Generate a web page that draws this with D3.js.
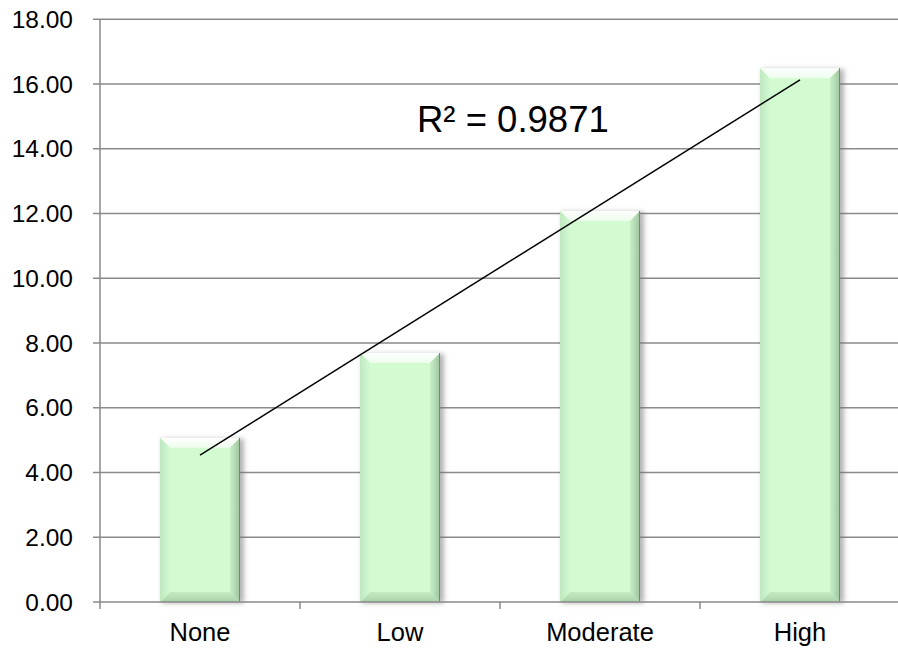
<!DOCTYPE html>
<html>
<head>
<meta charset="utf-8">
<script src="https://cdn.jsdelivr.net/npm/d3@7"></script>
<style>
  html, body { margin: 0; padding: 0; background: #fff; }
  svg { display: block; font-family: "Liberation Sans", Arial, sans-serif; }
</style>
</head>
<body>
<svg id="chart" width="898" height="649"></svg>
<script>
const categories = ["None", "Low", "Moderate", "High"];
const values = [5.07, 7.69, 12.08, 16.49];
const yTicks = [0, 2, 4, 6, 8, 10, 12, 14, 16, 18];
const r2Label = "R² = 0.9871";

const svg = d3.select("#chart");
const pL = 100, pR = 900, pT = 19.25, pB = 602;

const x = d3.scaleBand().domain(categories).range([pL, pR]).paddingInner(0.6).paddingOuter(0.3);
const y = d3.scaleLinear().domain([0, 18]).range([pB, pT]);

const defs = svg.append("defs");
const f = defs.append("filter").attr("id", "shadow").attr("x", "-20%").attr("y", "-20%").attr("width", "140%").attr("height", "140%");
f.append("feGaussianBlur").attr("stdDeviation", 2.5);
const gTop = defs.append("linearGradient").attr("id", "gtop").attr("x1", 0).attr("y1", 0).attr("x2", 0).attr("y2", 1);
gTop.append("stop").attr("offset", "0%").attr("stop-color", "#ffffff").attr("stop-opacity", 1);
gTop.append("stop").attr("offset", "100%").attr("stop-color", "#ffffff").attr("stop-opacity", 0.6);
const gBot = defs.append("linearGradient").attr("id", "gbot").attr("x1", 0).attr("y1", 0).attr("x2", 0).attr("y2", 1);
gBot.append("stop").attr("offset", "0%").attr("stop-color", "#c4ecc4").attr("stop-opacity", 1);
gBot.append("stop").attr("offset", "100%").attr("stop-color", "#a9d2a9").attr("stop-opacity", 1);
const gRight = defs.append("linearGradient").attr("id", "gright").attr("x1", 0).attr("y1", 0).attr("x2", 1).attr("y2", 0);
gRight.append("stop").attr("offset", "0%").attr("stop-color", "#c8f0c8");
gRight.append("stop").attr("offset", "100%").attr("stop-color", "#9fc49f");
const gLeft = defs.append("linearGradient").attr("id", "gleft").attr("x1", 0).attr("y1", 0).attr("x2", 1).attr("y2", 0);
gLeft.append("stop").attr("offset", "0%").attr("stop-color", "#c0e8c0");
gLeft.append("stop").attr("offset", "100%").attr("stop-color", "#d2fad2");

// gridlines
svg.append("g").selectAll("line").data(yTicks.filter(d => d > 0)).join("line")
  .attr("x1", pL).attr("x2", pR)
  .attr("y1", d => y(d)).attr("y2", d => y(d))
  .attr("stroke", "#8a8a8a").attr("stroke-width", 1.5);

// bars
const bars = svg.append("g").selectAll("g").data(categories.map((c, i) => ({c, v: values[i]}))).join("g");
const b = 10;
bars.append("rect")
  .attr("x", d => x(d.c) + 2).attr("y", d => y(d.v) + 1)
  .attr("width", x.bandwidth() + 2).attr("height", d => pB - y(d.v))
  .attr("fill", "#777").attr("opacity", 0.55).attr("filter", "url(#shadow)");
bars.append("rect")
  .attr("x", d => x(d.c)).attr("y", d => y(d.v))
  .attr("width", x.bandwidth()).attr("height", d => pB - y(d.v))
  .attr("fill", "#d2fbd2");
bars.append("polygon").attr("fill", "url(#gtop)").attr("points", d => {
  const x0 = x(d.c), x1 = x0 + x.bandwidth(), y0 = y(d.v);
  return [[x0, y0], [x1, y0], [x1 - b, y0 + b], [x0 + b, y0 + b]].join(" ");
});
bars.append("polygon").attr("fill", "url(#gbot)").attr("points", d => {
  const x0 = x(d.c), x1 = x0 + x.bandwidth();
  return [[x0, pB], [x1, pB], [x1 - b, pB - b], [x0 + b, pB - b]].join(" ");
});
bars.append("polygon").attr("fill", "url(#gright)").attr("points", d => {
  const x1 = x(d.c) + x.bandwidth(), y0 = y(d.v);
  return [[x1, y0], [x1, pB], [x1 - b, pB - b], [x1 - b, y0 + b]].join(" ");
});
bars.append("polygon").attr("fill", "url(#gleft)").attr("points", d => {
  const x0 = x(d.c), y0 = y(d.v);
  return [[x0, y0], [x0, pB], [x0 + b, pB - b], [x0 + b, y0 + b]].join(" ");
});
bars.append("line")
  .attr("x1", d => x(d.c) + x.bandwidth() - 0.5).attr("x2", d => x(d.c) + x.bandwidth() - 0.5)
  .attr("y1", d => y(d.v)).attr("y2", pB)
  .attr("stroke", "#6f8f6f").attr("stroke-width", 1);

// axes
svg.append("line").attr("x1", pL).attr("x2", pL).attr("y1", pT).attr("y2", pB)
  .attr("stroke", "#8a8a8a").attr("stroke-width", 1.5);
svg.append("line").attr("x1", pL).attr("x2", pR).attr("y1", pB).attr("y2", pB)
  .attr("stroke", "#8a8a8a").attr("stroke-width", 1.5);

// y ticks & labels
const yt = svg.append("g").selectAll("g").data(yTicks).join("g");
yt.append("line").attr("x1", pL - 7).attr("x2", pL).attr("y1", d => y(d)).attr("y2", d => y(d))
  .attr("stroke", "#8a8a8a").attr("stroke-width", 1.5);
yt.append("text").attr("x", pL - 27).attr("y", d => y(d)).attr("dy", "0.35em")
  .attr("text-anchor", "end").attr("font-size", 24.5).attr("fill", "#000")
  .text(d => d3.format(".2f")(d));

// x ticks at category boundaries
const bounds = categories.map(c => x(c) - x.step() * x.paddingOuter()).concat([pR]);
svg.append("g").selectAll("line").data(bounds).join("line")
  .attr("x1", d => d).attr("x2", d => d).attr("y1", pB).attr("y2", pB + 7)
  .attr("stroke", "#8a8a8a").attr("stroke-width", 1.5);
svg.append("g").selectAll("text").data(categories).join("text")
  .attr("x", d => x(d) + x.bandwidth() / 2).attr("y", 641)
  .attr("text-anchor", "middle").attr("font-size", 25.5).attr("fill", "#000")
  .text(d => d);

// linear trendline (least squares on category index)
const xs = values.map((v, i) => i + 1);
const mx = d3.mean(xs), my = d3.mean(values);
const slope = d3.sum(xs.map((xi, i) => (xi - mx) * (values[i] - my))) / d3.sum(xs.map(xi => (xi - mx) ** 2));
const icpt = my - slope * mx;
const cx = i => x(categories[i]) + x.bandwidth() / 2;
svg.append("line")
  .attr("x1", cx(0)).attr("y1", y(icpt + slope * 1))
  .attr("x2", cx(3)).attr("y2", y(icpt + slope * 4))
  .attr("stroke", "#000").attr("stroke-width", 1.5);

svg.append("text").attr("x", 417).attr("y", 132).attr("font-size", 36.5).attr("fill", "#000").text(r2Label);
</script>
</body>
</html>
